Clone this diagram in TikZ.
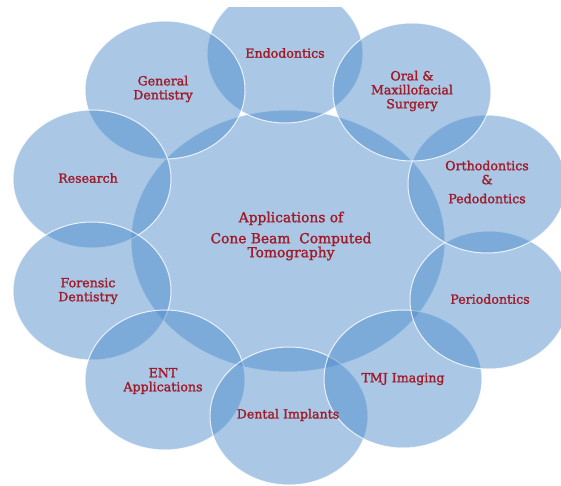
\documentclass[tikz,border=0pt]{standalone}
\usepackage{fontspec}
\setmainfont{DejaVu Serif}
\newfontfamily\lblfont{DejaVu Serif}[FakeBold=1.6]
\begin{document}
\begin{tikzpicture}[x=1pt,y=-1pt,
  bubble/.style={fill={rgb,255:red,74;green,138;blue,202}, fill opacity=0.47,
                 draw=white, draw opacity=0.8, line width=1pt},
  lbl/.style={text={rgb,255:red,160;green,26;blue,40}, align=center,
              font=\lblfont\fontsize{12.6}{14}\selectfont, inner sep=0pt},
  bigl/.style={lbl, font=\lblfont\fontsize{13.8}{14}\selectfont}]
\useasboundingbox (0,0) rectangle (561,486);
\begin{scope}
\clip (0,8) rectangle (561,486);
% centre ellipse
\path[bubble] (288,241) ellipse [x radius=157pt, y radius=131pt];
% ring of application areas
\path[bubble] (285,54)  ellipse [x radius=78pt, y radius=69pt];
\path[bubble] (165,90)  ellipse [x radius=80pt, y radius=69pt];
\path[bubble] (92,179)  ellipse [x radius=79pt, y radius=69pt];
\path[bubble] (92,291)  ellipse [x radius=79pt, y radius=69pt];
\path[bubble] (165,380) ellipse [x radius=80pt, y radius=70pt];
\path[bubble] (289,416) ellipse [x radius=79pt, y radius=69pt];
\path[bubble] (403,379) ellipse [x radius=79pt, y radius=69pt];
\path[bubble] (489,300) ellipse [x radius=79pt, y radius=69pt];
\path[bubble] (487,184) ellipse [x radius=79pt, y radius=69pt];
\path[bubble] (412,92)  ellipse [x radius=79pt, y radius=69pt];
\end{scope}
% labels
\node[bigl] (centre) at (291,236) {Applications of\\[7pt]Cone Beam\ \ Computed\\Tomography};
\node[lbl] (endo)   at (285,53)  {Endodontics};
\node[lbl] (gen)    at (163,89)  {General\\Dentistry};
\node[lbl] (res)    at (88,178)  {Research};
\node[lbl] (foren)  at (88,291)  {Forensic\\Dentistry};
\node[lbl] (ent)    at (163,381) {ENT\\Applications};
\node[lbl] (impl)   at (288,415) {Dental Implants};
\node[lbl] (tmj)    at (403,379) {TMJ Imaging};
\node[lbl] (perio)  at (490,299) {Periodontics};
\node[lbl] (ortho)  at (487,182) {Orthodontics\\\&\\[5pt]Pedodontics};
\node[lbl] (oral)   at (412,91)  {Oral \&\\Maxillofacial\\Surgery};
\end{tikzpicture}
\end{document}
